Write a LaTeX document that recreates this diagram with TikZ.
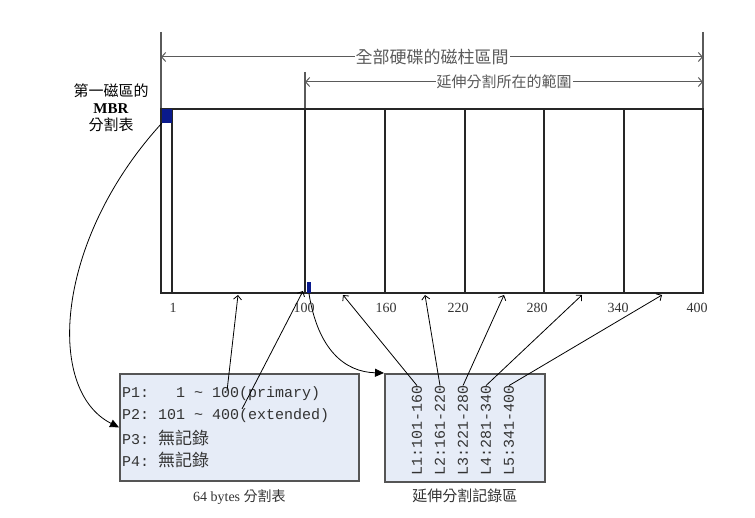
\documentclass[tikz,border=0pt]{standalone}
\usepackage{fontspec}
\setmainfont{Liberation Serif}
\setmonofont{Liberation Mono}
\newfontfamily\cjk{Noto Sans CJK TC}
\usetikzlibrary{arrows.meta,positioning}
\definecolor{mbrblue}{HTML}{0A1A8C}
\definecolor{boxfill}{HTML}{E6ECF7}
\definecolor{boxedge}{HTML}{555555}
\definecolor{dimgray}{HTML}{5A5A5A}
\newcommand{\fsz}[1]{\fontsize{#1}{#1}\selectfont}
\tikzset{
  diskline/.style  = {black!85,line width=1.1pt},
  dimedge/.style   = {dimgray,line width=1.4pt},
  dimline/.style   = {{Straight Barb[length=4pt,width=9pt]}-{Straight Barb[length=4pt,width=9pt]},dimgray,line width=1pt},
  dimtext/.style   = {fill=white,inner sep=1pt,text=dimgray},
  thinarr/.style   = {-{Straight Barb[length=4pt,width=8pt]},line width=0.8pt},
  curvearr/.style  = {-{Triangle[length=9pt,width=8pt]},line width=0.8pt},
  cell/.style      = {fill=mbrblue,inner sep=0pt},
  tablebox/.style  = {draw=boxedge,fill=boxfill,line width=1.8pt,inner sep=0pt,anchor=north west},
  rowtext/.style   = {font=\ttfamily\fsz{15},text=black!80,inner sep=0pt,anchor=west},
  axislabel/.style = {font=\fsz{14},text=black!80,inner sep=0pt},
  caption/.style   = {font=\fsz{14},text=black!80,inner sep=0pt}
}

\begin{document}
\begin{tikzpicture}[x=1pt,y=-1pt]
  \useasboundingbox (0,0) rectangle (755,518);
  % disk cylinders
  \draw[dimedge] (161,32) -- (161,109);
  \draw[dimedge] (703,32) -- (703,109);
  \draw[dimedge] (305,72) -- (305,109);
  \draw[diskline] (161,109) rectangle (703,293);
  \foreach \x in {172,305,385,465,544,624}
    \draw[diskline] (\x,109) -- (\x,293);
  \node[cell,minimum width=10pt,minimum height=14pt] (mbr) at (167,116) {};
  \node[cell,minimum width=4pt,minimum height=11pt]  (ebr) at (309,288) {};
  \foreach \x/\t in {173/1,304/100,386/160,458/220,537/280,618/340,697/400}
    \node[axislabel] (c\t) at (\x,308) {\t};

  % ranges
  \draw[dimline] (161,57) -- node[dimtext,font=\cjk\fsz{17}] (all) {全部硬碟的磁柱區間} (703,57);
  \draw[dimline] (305,82) -- node[dimtext,font=\cjk\fsz{15}] (ext) {延伸分割所在的範圍} (703,82);
  \node[font=\fsz{15},align=center,inner sep=0pt] (mbrlabel) at (111,108)
    {{\cjk 第一磁區的}\\[2pt]\textbf{MBR}\\[2pt]{\cjk 分割表}};

  % partition table
  \node[tablebox,minimum width=239pt,minimum height=107pt] (ptab) at (119,373) {};
  \node[rowtext] (p1) at (122,394) {P1:\ \ \ 1 \textasciitilde\ 100(primary)};
  \node[rowtext] (p2) at (122,416) {P2: 101 \textasciitilde\ 400(extended)};
  \node[rowtext] (p3) at (122,438) {P3: {\cjk\fsz{17}無記錄}};
  \node[rowtext] (p4) at (122,460) {P4: {\cjk\fsz{17}無記錄}};
  \node[caption,below=8pt of ptab] (pcap) {64 bytes {\cjk 分割表}};

  % extended records
  \node[tablebox,minimum width=160pt,minimum height=108pt] (etab) at (384,373) {};
  \foreach \i/\x/\t in {1/417/101-160,2/440/161-220,3/463/221-280,4/486/281-340,5/509/341-400}
    \node[rowtext,rotate=90] (l\i) at (\x,476) {L\i:\t};
  \node[caption,font=\cjk\fsz{15},below=6pt of etab] (ecap) {延伸分割記錄區};

  % pointers
  \coordinate (p1s) at (227,391);
  \coordinate (p2s) at (242,409);
  \coordinate (p1t) at (238,295);
  \coordinate (p2t) at (303,291);
  \draw[thinarr] (p1s) -- (p1t);
  \draw[thinarr] (p2s) -- (p2t);
  \foreach \i/\x in {1/343,2/425,3/504,4/582,5/662}
    \coordinate (t\i) at (\x,295);
  \foreach \i in {1,...,5}
    \draw[thinarr] (l\i.east) -- (t\i);
  \draw[curvearr] (mbr.south west) .. controls (55,240) and (45,390) .. (ptab.west);
  \draw[curvearr] (ebr.south) .. controls (318,350) and (345,372) .. (etab.north west);
\end{tikzpicture}
\end{document}
